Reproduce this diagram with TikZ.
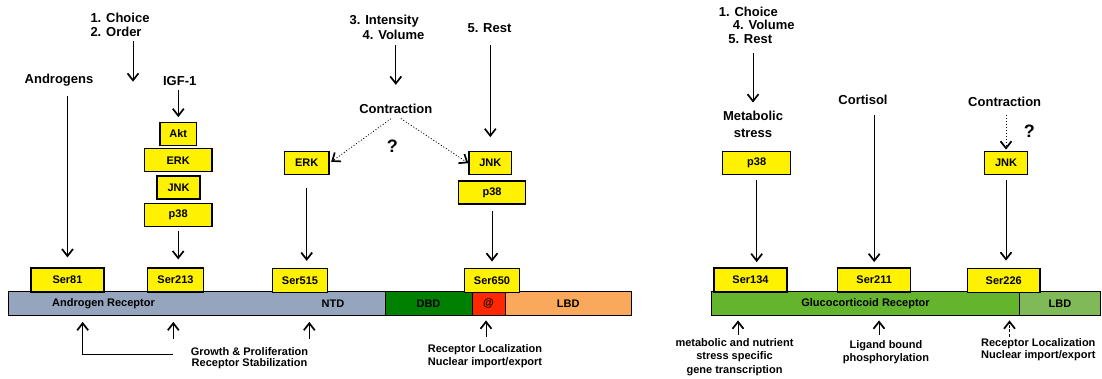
\documentclass[tikz,border=0pt]{standalone}
\usepackage{fontspec}
\setmainfont{Liberation Sans}
\usetikzlibrary{arrows.meta}
\definecolor{argrey}{RGB}{149,165,189}
\definecolor{dbdgreen}{RGB}{0,128,0}
\definecolor{atred}{RGB}{255,40,0}
\definecolor{lbdorange}{RGB}{250,168,92}
\definecolor{grgreen}{RGB}{100,180,45}
\definecolor{lbdgreen}{RGB}{128,185,88}
\begin{document}
\begin{tikzpicture}[x=1pt, y=-1pt,
  kin/.style={draw, fill=yellow, line width=1.2pt, inner sep=0pt, minimum height=23pt, font=\fontsize{11}{12}\selectfont\bfseries},
  ser/.style={kin, minimum height=24pt},
  seg/.style={draw, line width=0.9pt, inner sep=0pt, minimum height=23.3pt, font=\fontsize{11}{12}\selectfont\bfseries},
  lbl/.style={font=\fontsize{13}{15}\selectfont\bfseries, align=center, inner sep=1pt},
  note/.style={font=\fontsize{11}{12.5}\selectfont\bfseries, align=center, inner sep=1pt},
  qm/.style={font=\fontsize{18}{20}\selectfont\bfseries, inner sep=0pt},
  arr/.style={-{Straight Barb[length=7pt,width=11pt,line width=1.7pt]}, line width=1pt},
  dot/.style={arr, dotted}]
\useasboundingbox (0,0) rectangle (1102,379);

% androgen receptor
\node[seg, fill=argrey, minimum width=377pt] (ar) at (196.5,303.3) {};
\node[seg, fill=dbdgreen, minimum width=87pt] (dbd) at (428.5,303.3) {DBD};
\node[seg, fill=atred, minimum width=33pt] (at) at (488.5,303.3) {@};
\node[seg, fill=lbdorange, minimum width=126.5pt] (lbd1) at (568.25,303.3) {LBD};
\node[note] (arl) at (103.5,304) {Androgen Receptor};
\node[note] (ntd) at (333,304) {NTD};

\node[ser, minimum width=73pt] (s81) at (67.5,280) {Ser81};
\node[ser, minimum width=55.6pt] (s213) at (175.5,280) {Ser213};
\node[ser, minimum width=55.4pt] (s515) at (300,280.5) {Ser515};
\node[ser, minimum width=55.7pt] (s650) at (492,280.5) {Ser650};

\node[kin, minimum width=36.7pt] (akt) at (178.3,133.8) {Akt};
\node[kin, minimum width=67.7pt] (erk1) at (178.2,160.3) {ERK};
\node[kin, minimum width=43pt] (jnk1) at (178.5,187.5) {JNK};
\node[kin, minimum width=67.7pt] (p381) at (178.2,215) {p38};
\node[kin, minimum width=44.5pt] (erk2) at (306.7,163) {ERK};
\node[kin, minimum width=42.7pt] (jnk2) at (490.3,163.2) {JNK};
\node[kin, minimum width=67.4pt] (p382) at (492,192.5) {p38};

\node[lbl] (andro) at (59,80.3) {Androgens};
\node[lbl, align=left, font=\fontsize{13}{14}\selectfont\bfseries] (choice) at (120,25.3) {1. Choice\\2. Order};
\node[lbl] (igf) at (179.7,81) {IGF-1};
\node[lbl, align=left] (int) at (387,27.5) {3. Intensity\\\hspace*{13pt}4. Volume};
\node[lbl] (rest) at (489.5,28.3) {5. Rest};
\node[lbl] (contr) at (395.8,109.3) {Contraction};
\node[qm] (q1) at (392.3,146.7) {?};

\coordinate (cho) at (133,81.7);
\draw[arr, shorten <=8.6pt, shorten >=10pt] (andro.south -| s81) -- (s81);
\draw[arr, shorten <=3pt] (choice.south -| cho) -- (cho);
\draw[arr, shorten <=3pt, shorten >=4.6pt] (igf.south -| akt) -- (akt);
\draw[arr, shorten <=4pt, shorten >=8pt] (p381) -- (p381 |- s213.north);
\draw[arr, shorten <=13pt, shorten >=7pt] (erk2) -- (erk2 |- s515.north);
\draw[arr, shorten <=4pt, shorten >=18.5pt] (int.south -| contr) -- (contr);
\draw[arr, shorten <=11pt, shorten >=14pt] (rest.south -| jnk2) -- (jnk2);
\draw[arr, shorten <=6.7pt, shorten >=6.3pt] (p382) -- (s650);
\draw[dot, line width=0.8pt, shorten <=6pt, shorten >=2pt] (contr.south) -- (erk2.east);
\draw[dot, line width=0.8pt, shorten <=6pt] (contr.south) -- (jnk2.west);

% below the androgen receptor
\node[note, font=\fontsize{11}{11.4}\selectfont\bfseries] (gp) at (249.5,358) {Growth \& Proliferation\\Receptor Stabilization};
\node[note, font=\fontsize{11}{13}\selectfont\bfseries] (rl1) at (485,355.8) {Receptor Localization\\Nuclear import/export};
\coordinate (g1) at (173,354.3);
\coordinate (g2) at (82.7,354.3);
\coordinate (u1) at (173.3,339);
\coordinate (u2) at (309.3,339);
\coordinate (u3) at (486,336.7);
\draw[arr, shorten >=6.5pt] (g1) -- (g2) -- (g2 |- ar.south);
\draw[arr, shorten >=6.5pt] (u1) -- (u1 |- ar.south);
\draw[arr, shorten >=6.5pt] (u2) -- (u2 |- ar.south);
\draw[arr, shorten >=5pt] (u3) -- (u3 |- at.south);

% glucocorticoid receptor
\node[seg, fill=grgreen, minimum width=307.6pt] (gr) at (865.5,303.3) {Glucocorticoid Receptor};
\node[seg, fill=lbdgreen, minimum width=81.4pt] (lbd2) at (1060,303.3) {LBD};

\node[ser, minimum width=73pt] (s134) at (750.5,280) {Ser134};
\node[ser, minimum width=73pt] (s211) at (874.2,280) {Ser211};
\node[ser, minimum width=72.7pt] (s226) at (1003.7,280.5) {Ser226};
\node[kin, minimum width=68pt] (p383) at (756.7,162.7) {p38};
\node[kin, minimum width=42.6pt] (jnk3) at (1006,162.7) {JNK};

\node[lbl, align=left, font=\fontsize{13}{13.7}\selectfont\bfseries] (rsc) at (756.7,25.3) {1. Choice\\\hspace*{14pt}4. Volume\\\hspace*{9.4pt}5. Rest};
\node[lbl, font=\fontsize{13}{17}\selectfont\bfseries] (met) at (753,124.8) {Metabolic\\stress};
\node[lbl] (cort) at (863,100) {Cortisol};
\node[lbl] (contr2) at (1004.7,102.3) {Contraction};
\node[qm] (q2) at (1029.3,131) {?};

\draw[arr, shorten <=8.5pt, shorten >=7.8pt] (rsc.south -| met) -- (met);
\draw[arr, shorten <=5.7pt, shorten >=5.3pt] (p383) -- (p383 |- s134.north);
\draw[arr, shorten <=9pt, shorten >=5.3pt] (cort.south -| s211) -- (s211);
\draw[dot, line width=0.8pt, shorten <=7pt, shorten >=1pt] (contr2.south -| jnk3) -- (jnk3);
\draw[arr, shorten <=5.7pt, shorten >=7.3pt] (jnk3) -- (jnk3 |- s226.north);

% below the glucocorticoid receptor
\node[note, font=\fontsize{11}{13.5}\selectfont\bfseries] (mnt) at (734.5,357) {metabolic and nutrient\\stress specific\\gene transcription};
\node[note, font=\fontsize{11}{12.3}\selectfont\bfseries] (lig) at (886,352.2) {Ligand bound\\phosphorylation};
\node[note, font=\fontsize{11}{12.7}\selectfont\bfseries] (rl2) at (1038.3,349.7) {Receptor Localization\\Nuclear import/export};
\coordinate (u4) at (738,335);
\coordinate (u5) at (879,335);
\coordinate (u6) at (1009.5,336.7);
\draw[arr, shorten >=5pt] (u4) -- (u4 |- gr.south);
\draw[arr, shorten >=5pt] (u5) -- (u5 |- gr.south);
\draw[arr, dash pattern=on 3pt off 1.5pt, shorten >=5pt] (u6) -- (u6 |- gr.south);
\end{tikzpicture}
\end{document}
